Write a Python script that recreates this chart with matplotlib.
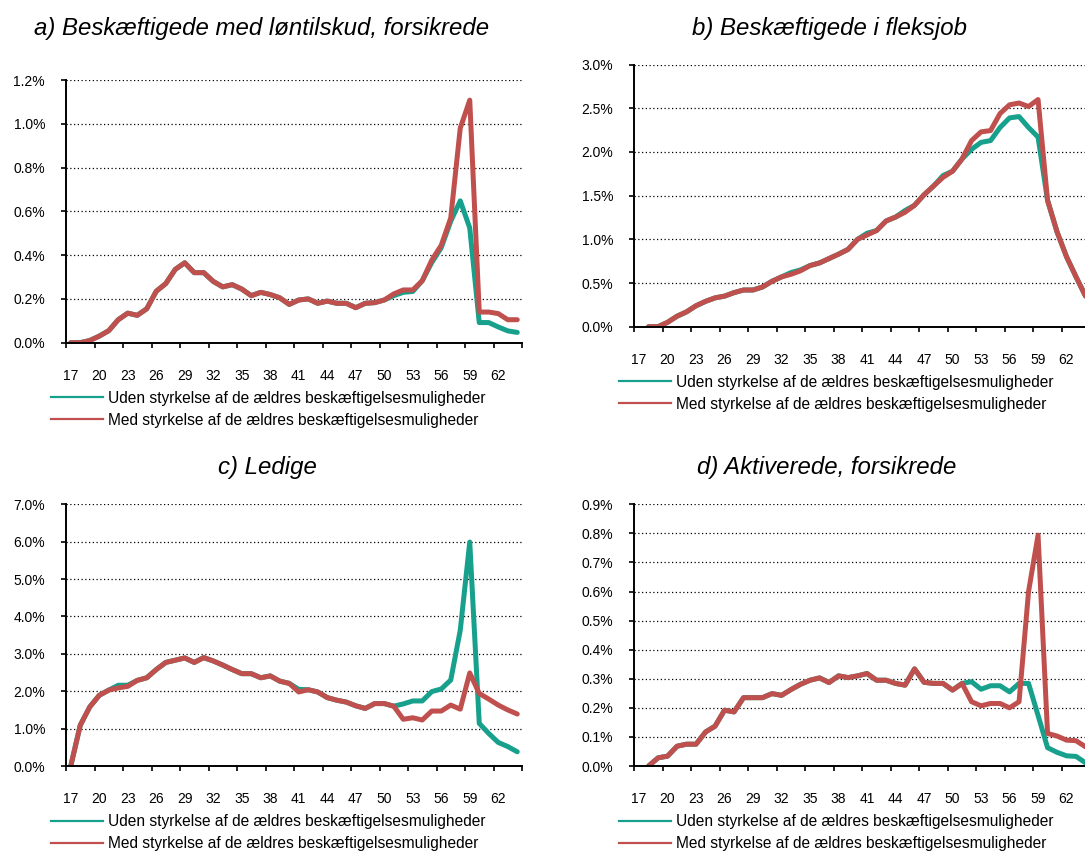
import matplotlib
matplotlib.use("Agg")
import matplotlib.pyplot as plt
from matplotlib.lines import Line2D
from matplotlib.ticker import FuncFormatter
import numpy as np

plt.rcParams["font.family"] = ["Liberation Sans", "DejaVu Sans"]

ages = list(range(17, 65))

# a) Beskæftigede med løntilskud, forsikrede (pct.)
a_uden = [0.00, 0.00, 0.01, 0.03, 0.055, 0.105, 0.135, 0.125, 0.155, 0.235,
          0.27, 0.335, 0.365, 0.32, 0.32, 0.28, 0.255, 0.265, 0.245, 0.215,
          0.23, 0.22, 0.205, 0.175, 0.195, 0.20, 0.18, 0.19, 0.18, 0.18,
          0.16, 0.18, 0.183, 0.195, 0.215, 0.23, 0.234, 0.283, 0.366, 0.434,
          0.555, 0.648, 0.524, 0.092, 0.092, 0.072, 0.054, 0.047]
a_med = [0.00, 0.00, 0.01, 0.03, 0.055, 0.105, 0.135, 0.125, 0.155, 0.235,
         0.27, 0.335, 0.365, 0.32, 0.32, 0.28, 0.255, 0.265, 0.245, 0.215,
         0.23, 0.22, 0.205, 0.175, 0.195, 0.20, 0.18, 0.19, 0.18, 0.18,
         0.16, 0.18, 0.183, 0.195, 0.223, 0.241, 0.241, 0.283, 0.377, 0.445,
         0.57, 0.98, 1.108, 0.14, 0.14, 0.133, 0.105, 0.105]

# b) Beskæftigede i fleksjob
b_uden = [np.nan, 0.00, 0.00, 0.05, 0.12, 0.17, 0.24, 0.29, 0.33, 0.35,
          0.39, 0.42, 0.42, 0.455, 0.52, 0.57, 0.62, 0.65, 0.70, 0.73,
          0.78, 0.83, 0.885, 1.00, 1.07, 1.10, 1.21, 1.255, 1.33, 1.39,
          1.51, 1.61, 1.73, 1.78, 1.92, 2.03, 2.11, 2.13, 2.28, 2.39,
          2.405, 2.28, 2.17, 1.446, 1.085, 0.80, 0.57, 0.35]
b_med = [np.nan, 0.00, 0.00, 0.05, 0.12, 0.17, 0.24, 0.29, 0.33, 0.35,
         0.39, 0.42, 0.42, 0.455, 0.52, 0.57, 0.60, 0.64, 0.70, 0.73,
         0.78, 0.83, 0.885, 1.00, 1.05, 1.10, 1.21, 1.255, 1.31, 1.39,
         1.51, 1.61, 1.71, 1.78, 1.92, 2.13, 2.23, 2.245, 2.44, 2.54,
         2.56, 2.52, 2.60, 1.446, 1.085, 0.80, 0.57, 0.35]

# c) Ledige
c_uden = [0.00, 1.09, 1.58, 1.89, 2.03, 2.16, 2.16, 2.29, 2.36, 2.58,
          2.77, 2.83, 2.89, 2.77, 2.90, 2.81, 2.70, 2.58, 2.47, 2.47,
          2.36, 2.41, 2.27, 2.21, 2.05, 2.04, 1.98, 1.83, 1.76, 1.71,
          1.61, 1.54, 1.67, 1.67, 1.60, 1.66, 1.74, 1.74, 1.99, 2.06,
          2.30, 3.63, 5.99, 1.14, 0.87, 0.63, 0.52, 0.38]
c_med = [0.00, 1.09, 1.58, 1.89, 2.03, 2.09, 2.13, 2.29, 2.36, 2.58,
         2.77, 2.83, 2.89, 2.77, 2.90, 2.81, 2.70, 2.58, 2.47, 2.47,
         2.36, 2.41, 2.27, 2.21, 1.98, 2.04, 1.98, 1.83, 1.76, 1.71,
         1.61, 1.54, 1.67, 1.67, 1.60, 1.25, 1.29, 1.23, 1.47, 1.47,
         1.63, 1.52, 2.49, 1.94, 1.79, 1.63, 1.50, 1.39]

# d) Aktiverede, forsikrede
d_uden = [np.nan, 0.00, 0.028, 0.034, 0.068, 0.075, 0.075, 0.117, 0.137, 0.192,
          0.186, 0.235, 0.235, 0.235, 0.249, 0.243, 0.263, 0.281, 0.295, 0.303,
          0.287, 0.310, 0.304, 0.310, 0.318, 0.295, 0.295, 0.284, 0.278, 0.334,
          0.288, 0.284, 0.284, 0.261, 0.284, 0.29, 0.264, 0.276, 0.276, 0.255,
          0.284, 0.284, 0.174, 0.063, 0.047, 0.035, 0.033, 0.011]
d_med = [np.nan, 0.00, 0.028, 0.034, 0.068, 0.075, 0.075, 0.117, 0.137, 0.192,
         0.186, 0.235, 0.235, 0.235, 0.249, 0.243, 0.263, 0.281, 0.295, 0.303,
         0.287, 0.310, 0.304, 0.310, 0.318, 0.295, 0.295, 0.284, 0.278, 0.334,
         0.288, 0.284, 0.284, 0.261, 0.284, 0.221, 0.207, 0.215, 0.215, 0.20,
         0.221, 0.60, 0.794, 0.112, 0.103, 0.089, 0.087, 0.066]

titles = ["a) Beskæftigede med løntilskud, forsikrede",
          "b) Beskæftigede i fleksjob",
          "c) Ledige",
          "d) Aktiverede, forsikrede"]
y_max = [1.2, 3.0, 7.0, 0.9]
y_step = [0.2, 0.5, 1.0, 0.1]
legend_labels = ["Uden styrkelse af de ældres beskæftigelsesmuligheder",
                 "Med styrkelse af de ældres beskæftigelsesmuligheder"]

TEAL = "#17a08c"
RED = "#c0504d"

W, H = 1085, 852
fig = plt.figure(figsize=(W / 100, H / 100), dpi=100)

# axes boxes in pixels: x0, width, top, bottom
boxes = [(66, 456, 80, 342.7), (634.3, 456, 64.6, 326.7),
         (66, 456, 504.3, 766), (634.3, 456, 504.3, 766)]
title_pos = [(261.5, 35), (829, 35), (267, 474), (826.5, 474)]
series = [(a_uden, a_med), (b_uden, b_med), (c_uden, c_med), (d_uden, d_med)]

for k in range(4):
    x0, w, top, bot = boxes[k]
    ax = fig.add_axes([x0 / W, 1 - bot / H, w / W, (bot - top) / H])
    uden, med = series[k]
    ax.plot(ages, uden, color=TEAL, lw=3.6, solid_capstyle="round",
            solid_joinstyle="round", zorder=3)
    ax.plot(ages, med, color=RED, lw=3.6, solid_capstyle="round",
            solid_joinstyle="round", zorder=4)

    ax.set_xlim(16.5, 64.5)
    ax.set_ylim(0, y_max[k])
    ax.set_yticks(np.arange(0, y_max[k] + y_step[k] / 2, y_step[k]))
    ax.yaxis.set_major_formatter(FuncFormatter(lambda v, p: f"{v:.1f}%"))
    ax.set_xticks(np.arange(16.5, 65, 3))
    ax.set_xticklabels([])
    ax.set_xticks(np.arange(17, 63, 3), minor=True)
    ax.set_xticklabels([str(a) for a in range(17, 63, 3)], minor=True)

    ax.tick_params(axis="both", which="major", direction="out", length=3.6,
                   width=1.2, color="black", labelsize=10)
    ax.tick_params(axis="y", pad=11.5)
    ax.tick_params(axis="x", which="minor", length=0, pad=19, labelsize=10)

    ax.yaxis.grid(True, linestyle=(0, (1, 2)), color="black", lw=0.9)
    ax.set_axisbelow(True)
    for side in ["top", "right"]:
        ax.spines[side].set_visible(False)
    for side in ["left", "bottom"]:
        ax.spines[side].set_linewidth(1.4)
        ax.spines[side].set_zorder(5)

    handles = [Line2D([], [], color=TEAL, lw=1.6),
               Line2D([], [], color=RED, lw=1.6)]
    ax.legend(handles, legend_labels, loc="upper left",
              bbox_to_anchor=(-15 / w, -48 / (bot - top)), frameon=False,
              borderpad=0, borderaxespad=0, handlelength=3.33,
              handletextpad=0.32, labelspacing=0.45, fontsize=11.2)

    tx, ty = title_pos[k]
    fig.text(tx / W, 1 - ty / H, titles[k], ha="center", va="baseline",
             fontsize=17.3, style="italic")

fig.savefig("out.png", dpi=100)
